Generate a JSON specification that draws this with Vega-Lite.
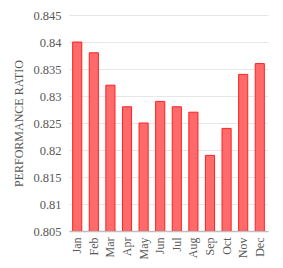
{
  "$schema": "https://vega.github.io/schema/vega-lite/v6.json",
  "autosize": "none",
  "width": 199,
  "height": 216,
  "padding": {"left": 69, "top": 15, "right": 15, "bottom": 37},
  "background": "white",
  "data": {"values": [
    {"month": "Jan", "pr": 0.840},
    {"month": "Feb", "pr": 0.838},
    {"month": "Mar", "pr": 0.832},
    {"month": "Apr", "pr": 0.828},
    {"month": "May", "pr": 0.825},
    {"month": "Jun", "pr": 0.829},
    {"month": "Jul", "pr": 0.828},
    {"month": "Aug", "pr": 0.827},
    {"month": "Sep", "pr": 0.819},
    {"month": "Oct", "pr": 0.824},
    {"month": "Nov", "pr": 0.834},
    {"month": "Dec", "pr": 0.836}
  ]},
  "mark": {"type": "bar", "fill": "#ff6b6b", "stroke": "#ff2020", "strokeWidth": 1, "clip": true},
  "encoding": {
    "x": {
      "field": "month", "type": "nominal", "sort": null,
      "scale": {"paddingInner": 0.45, "paddingOuter": 0.22},
      "axis": {
        "title": null, "labelAngle": -90, "labelFont": "Times New Roman, Liberation Serif, DejaVu Serif, serif", "labelFontSize": 12,
        "labelColor": "#595959", "ticks": false, "labelPadding": 6, "domainColor": "#bfbfbf", "domainWidth": 1.5
      }
    },
    "y": {
      "field": "pr", "type": "quantitative",
      "scale": {"domain": [0.805, 0.845], "zero": false, "nice": false},
      "axis": {
        "title": "PERFORMANCE RATIO", "values": [0.805, 0.81, 0.815, 0.82, 0.825, 0.83, 0.835, 0.84, 0.845],
        "format": "~g", "labelFont": "Times New Roman, Liberation Serif, DejaVu Serif, serif", "labelFontSize": 12.5, "labelColor": "#595959",
        "ticks": false, "labelPadding": 8, "domain": false, "gridColor": "#e6e6e6",
        "titleFont": "Times New Roman, Liberation Serif, DejaVu Serif, serif", "titleFontSize": 12, "titleFontWeight": "normal", "titleColor": "#595959",
        "titlePadding": 7
      }
    }
  },
  "config": {"view": {"stroke": null}}
}
